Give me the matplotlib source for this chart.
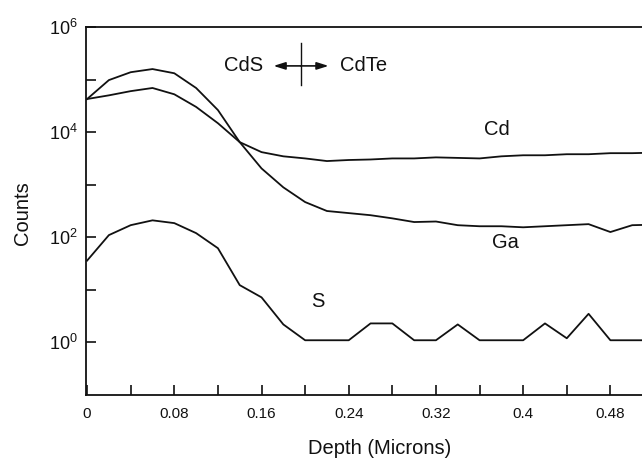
import numpy as np
import matplotlib
matplotlib.use("Agg")
import matplotlib.pyplot as plt
from matplotlib.ticker import FixedLocator, NullFormatter

plt.rcParams['font.family'] = ['Liberation Sans', 'DejaVu Sans']
plt.rcParams['mathtext.fontset'] = 'custom'
plt.rcParams['mathtext.rm'] = 'Liberation Sans'
plt.rcParams['mathtext.it'] = 'Liberation Sans:italic'
plt.rcParams['mathtext.bf'] = 'Liberation Sans:bold'

# Depth (microns), sampled every 0.02
depth = [0.00, 0.02, 0.04, 0.06, 0.08, 0.10, 0.12, 0.14, 0.16, 0.18,
         0.20, 0.22, 0.24, 0.26, 0.28, 0.30, 0.32, 0.34, 0.36, 0.38,
         0.40, 0.42, 0.44, 0.46, 0.48, 0.50, 0.52]

# log10(counts)
cd_log = [4.63, 4.70, 4.78, 4.84, 4.72, 4.48, 4.17, 3.81, 3.62, 3.54,
          3.50, 3.45, 3.47, 3.48, 3.50, 3.50, 3.52, 3.51, 3.50, 3.54,
          3.56, 3.56, 3.58, 3.58, 3.60, 3.60, 3.61]
ga_log = [4.63, 4.99, 5.14, 5.20, 5.12, 4.84, 4.42, 3.81, 3.31, 2.95,
          2.67, 2.50, 2.46, 2.42, 2.36, 2.29, 2.30, 2.23, 2.21, 2.21,
          2.19, 2.21, 2.23, 2.25, 2.10, 2.23, 2.24]
s_counts = [36, 110, 170, 210, 186, 120, 62, 12.3, 7.2, 2.2,
            1.1, 1.1, 1.1, 2.3, 2.3, 1.1, 1.1, 2.2, 1.1, 1.1,
            1.1, 2.3, 1.2, 3.5, 1.1, 1.1, 1.1]

cd_counts = [10 ** v for v in cd_log]
ga_counts = [10 ** v for v in ga_log]

major_x = [0, 0.08, 0.16, 0.24, 0.32, 0.4, 0.48]
major_x_labels = ['0', '0.08', '0.16', '0.24', '0.32', '0.4', '0.48']
minor_x = [0.04, 0.12, 0.20, 0.28, 0.36, 0.44]
major_y = [1e0, 1e2, 1e4, 1e6]
major_y_labels = [r'$\mathregular{10^{0}}$', r'$\mathregular{10^{2}}$',
                  r'$\mathregular{10^{4}}$', r'$\mathregular{10^{6}}$']
minor_y = [1e1, 1e3, 1e5]

# interface marker
interface_x = 0.196
marker_y = 10 ** 5.26
marker_top = 10 ** 5.70
marker_bot = 10 ** 4.90
arrow_left = 0.171
arrow_right = 0.2215

fig = plt.figure(figsize=(6.42, 4.63), dpi=100)
ax = fig.add_axes([86 / 642, 1 - 395 / 463, 1 - 86 / 642, (395 - 27) / 463])

lc = '#111111'
ax.plot(depth, ga_counts, color=lc, lw=1.3)
ax.plot(depth, cd_counts, color=lc, lw=1.3)
ax.plot(depth, s_counts, color=lc, lw=1.3)

ax.set_yscale('log')
ax.set_xlim(-0.001, 0.509)
ax.set_ylim(1e-1, 1e6)

ax.xaxis.set_major_locator(FixedLocator(major_x))
ax.set_xticklabels(major_x_labels)
ax.xaxis.set_minor_locator(FixedLocator(minor_x))
ax.yaxis.set_major_locator(FixedLocator(major_y))
ax.set_yticklabels(major_y_labels)
ax.yaxis.set_minor_locator(FixedLocator(minor_y))
ax.yaxis.set_minor_formatter(NullFormatter())

ax.tick_params(axis='x', which='both', direction='in', length=7, width=1.2,
               labelsize=11, pad=9, colors=lc)
ax.tick_params(axis='y', which='both', direction='in', length=7, width=1.2,
               labelsize=13, pad=6, colors=lc)

ax.spines['right'].set_visible(False)
for s in ['left', 'bottom', 'top']:
    ax.spines[s].set_linewidth(1.3)
    ax.spines[s].set_color(lc)

ax.set_ylabel('Counts', fontsize=14.5, color=lc)
ax.yaxis.set_label_coords(-0.097, 0.495)
ax.set_xlabel('Depth (Microns)', fontsize=14.5, color=lc)
ax.xaxis.set_label_coords((380 - 86) / (642 - 86), -0.12)

# interface marker
ax.plot([interface_x, interface_x], [marker_bot, marker_top], color=lc, lw=1.0)
ap = dict(arrowstyle='-|>,head_length=0.7,head_width=0.22', color=lc, lw=1.2,
          shrinkA=0, shrinkB=0)
ax.annotate('', xy=(arrow_left, marker_y), xytext=(interface_x, marker_y), arrowprops=ap)
ax.annotate('', xy=(arrow_right, marker_y), xytext=(interface_x, marker_y), arrowprops=ap)
ax.text(0.1437, marker_y, 'CdS', fontsize=14.5, ha='center', va='center', color=lc)
ax.text(0.2535, marker_y, 'CdTe', fontsize=14.5, ha='center', va='center', color=lc)

ax.text(0.376, 1.1e4, 'Cd', fontsize=14.5, ha='center', va='center', color=lc)
ax.text(0.384, 80, 'Ga', fontsize=14.5, ha='center', va='center', color=lc)
ax.text(0.212, 6, 'S', fontsize=14.5, ha='center', va='center', color=lc)

fig.savefig('out.png', dpi=100)
